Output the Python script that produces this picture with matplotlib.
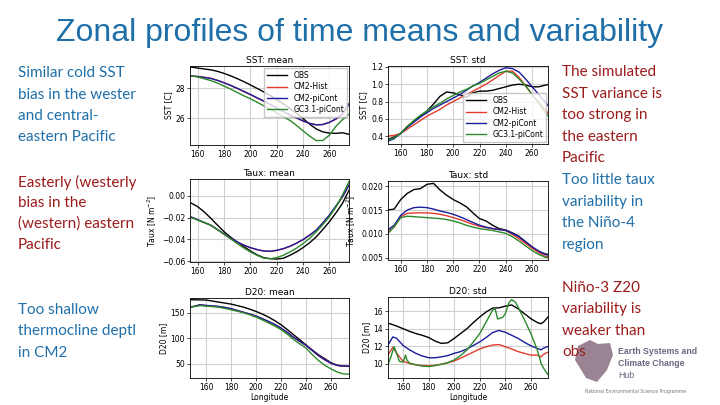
import numpy as np
import matplotlib
matplotlib.use('Agg')
import matplotlib.pyplot as plt
from matplotlib.patches import Polygon

# --- данные ---
lon = [150, 155, 160, 165, 170, 175, 180, 185, 190, 195, 200, 205, 210,
       215, 220, 225, 230, 235, 240, 245, 250, 255, 260, 265, 270, 275]
labels = ['OBS', 'CM2-Hist', 'CM2-piCont', 'GC3.1-piCont']
colors = ['black', '#e23b2e', '#1c1c9e', '#2a8a2a']

# SST: mean
sst_mean_obs = [29.5, 29.43, 29.36, 29.3, 29.24, 29.14, 29.0, 28.84, 28.65, 28.45, 28.23, 28.0, 27.77,
                27.52, 27.25, 26.96, 26.65, 26.32, 25.98, 25.6, 25.28, 25.08, 25.0, 24.98, 25.02, 24.92]
sst_mean_hist = [28.86, 28.84, 28.8, 28.74, 28.67, 28.54, 28.37, 28.19, 27.99, 27.78, 27.57, 27.35, 27.14,
                 26.91, 26.67, 26.44, 26.21, 26.01, 25.81, 25.65, 25.56, 25.58, 25.71, 25.93, 26.25, 26.92]
sst_mean_picont = [28.84, 28.83, 28.79, 28.73, 28.66, 28.53, 28.37, 28.2, 28.0, 27.8, 27.59, 27.37, 27.16,
                   26.93, 26.69, 26.45, 26.22, 26.02, 25.82, 25.65, 25.55, 25.57, 25.72, 25.95, 26.3, 26.97]
sst_mean_gc3 = [28.86, 28.84, 28.76, 28.64, 28.52, 28.35, 28.15, 27.95, 27.72, 27.5, 27.3, 27.07, 26.84,
                26.6, 26.35, 26.1, 25.85, 25.52, 25.15, 24.8, 24.5, 24.5, 24.85, 25.45, 25.9, 26.25]

# SST: std
sst_std_obs = [0.36, 0.39, 0.43, 0.51, 0.57, 0.63, 0.69, 0.77, 0.86, 0.91, 0.9, 0.88, 0.85,
               0.9, 0.92, 0.92, 0.93, 0.95, 0.97, 0.99, 1.0, 0.99, 0.97, 0.97, 0.99, 1.0]
sst_std_hist = [0.4, 0.41, 0.43, 0.48, 0.53, 0.58, 0.63, 0.67, 0.71, 0.76, 0.8, 0.84, 0.88,
                0.92, 0.96, 1.0, 1.05, 1.1, 1.15, 1.15, 1.08, 0.98, 0.88, 0.79, 0.7, 0.62]
sst_std_picont = [0.34, 0.37, 0.43, 0.5, 0.56, 0.62, 0.67, 0.72, 0.76, 0.8, 0.84, 0.88, 0.93,
                  0.98, 1.02, 1.07, 1.12, 1.16, 1.19, 1.18, 1.14, 1.06, 0.97, 0.88, 0.79, 0.7]
sst_std_gc3 = [0.35, 0.38, 0.43, 0.51, 0.58, 0.64, 0.69, 0.74, 0.78, 0.83, 0.87, 0.91, 0.94,
               0.98, 1.01, 1.05, 1.09, 1.13, 1.15, 1.13, 1.06, 0.98, 0.88, 0.78, 0.67, 0.58]

# Taux: mean
taux_mean_obs = [-0.005, -0.0068, -0.0101, -0.015, -0.0208, -0.027, -0.033, -0.038, -0.0423, -0.0465,
                 -0.0505, -0.054, -0.0566, -0.0576, -0.0579, -0.0572, -0.0545, -0.0513, -0.0475, -0.043,
                 -0.0377, -0.031, -0.0239, -0.0158, -0.007, 0.005]
taux_mean_hist = [-0.0187, -0.0197, -0.0222, -0.0247, -0.0272, -0.0312, -0.0352, -0.0391, -0.0424, -0.0453,
                  -0.0476, -0.0493, -0.0506, -0.0509, -0.05, -0.0485, -0.0463, -0.0435, -0.0402, -0.0362,
                  -0.0317, -0.0252, -0.018, -0.0097, -0.0012, 0.0096]
taux_mean_picont = [-0.0185, -0.0195, -0.022, -0.0245, -0.027, -0.031, -0.035, -0.039, -0.0423, -0.0452,
                    -0.0475, -0.0492, -0.0505, -0.0508, -0.0499, -0.0484, -0.0462, -0.0434, -0.0401, -0.036,
                    -0.0315, -0.025, -0.0178, -0.0095, -0.001, 0.0098]
taux_mean_gc3 = [-0.019, -0.02, -0.0224, -0.0245, -0.027, -0.031, -0.0352, -0.0395, -0.0438, -0.0478,
                 -0.0514, -0.0545, -0.057, -0.0576, -0.0566, -0.0545, -0.0514, -0.048, -0.0438, -0.039,
                 -0.0331, -0.0265, -0.0193, -0.0105, 0.0006, 0.0129]

# Taux: std
taux_std_obs = [0.015, 0.0152, 0.0172, 0.0185, 0.0193, 0.0195, 0.0204, 0.0206, 0.0192, 0.0181, 0.0172, 0.0165,
                0.0157, 0.0144, 0.0132, 0.0127, 0.0118, 0.0111, 0.0108, 0.0102, 0.0095, 0.0083, 0.0072,
                0.0063, 0.0058, 0.0055]
taux_std_hist = [0.0104, 0.0114, 0.0136, 0.0143, 0.0144, 0.0144, 0.0144, 0.0143, 0.0141, 0.0138, 0.0134, 0.013,
                 0.0125, 0.012, 0.0116, 0.0113, 0.0111, 0.0109, 0.0107, 0.0099, 0.009, 0.008, 0.007,
                 0.0061, 0.0053, 0.005]
taux_std_picont = [0.0108, 0.0118, 0.0139, 0.015, 0.0155, 0.0156, 0.0155, 0.0152, 0.0148, 0.0145, 0.0141, 0.0136,
                   0.013, 0.0124, 0.0118, 0.0114, 0.0111, 0.0109, 0.0107, 0.0101, 0.0094, 0.0084, 0.0073,
                   0.0064, 0.0057, 0.0053]
taux_std_gc3 = [0.01, 0.0115, 0.0134, 0.0137, 0.0136, 0.0135, 0.0134, 0.0133, 0.0132, 0.013, 0.0127, 0.0123,
                0.0118, 0.0114, 0.0111, 0.0109, 0.0107, 0.0104, 0.0101, 0.0094, 0.0085, 0.0075, 0.0065,
                0.0057, 0.0051, 0.0048]

# D20: mean
lon_d20 = [145] + lon
d20_mean_obs = [175.5, 175.5, 175.3, 175, 173, 171, 169, 167, 164, 161, 157, 152.6, 147.5, 141.5,
                134.5, 126.5, 117, 107, 97, 87, 77, 67.6, 60, 52, 47, 45, 45]
d20_mean_hist = [160, 162.5, 165.5, 164.2, 163.3, 162.2, 160.3, 157.8, 154.3, 150.8, 147.3, 143.3, 138.3, 132.8,
                 126.8, 119.8, 111.3, 101.8, 93.8, 85.8, 75.8, 65.8, 57.8, 50.8, 46.8, 45.3, 44.8]
d20_mean_picont = [160, 162.5, 165.7, 164.4, 163.5, 162.4, 160.5, 158, 154.5, 151, 147.5, 143.5, 138.5, 133,
                   127, 120, 111.5, 102, 94, 86, 76, 66, 58, 51, 47, 45.5, 45]
d20_mean_gc3 = [160, 162, 164, 163, 162, 161, 158.5, 156, 153, 150, 146, 141.5, 136, 130,
                124, 117, 108, 97.7, 89, 80.7, 68, 56.5, 47, 40, 33.7, 30, 29.5]

# D20: std
lon_d20s_obs = [145, 150, 155, 160, 165, 170, 175, 180, 185, 190, 195, 200, 205, 210, 215, 220, 225,
                230, 235, 240, 245, 250, 255, 260, 265, 268, 270, 275]
d20_std_obs = [14.7, 14.55, 14.3, 14.0, 13.7, 13.45, 13.25, 13.0, 12.6, 12.33, 12.4, 12.9, 13.45, 14.0,
               14.7, 15.33, 15.9, 16.34, 16.37, 16.56, 16.7, 16.26, 15.7, 15.14, 14.7, 14.57, 14.76, 15.6]
lon_d20s_cm2 = [145, 148, 152, 155, 160, 165, 170, 175, 180, 185, 190, 195, 200, 205, 210, 215, 220,
                225, 230, 235, 240, 245, 250, 255, 260, 265, 268, 270, 275]
d20_std_hist = [10.6, 11.0, 11.9, 11.2, 10.3, 10.05, 9.9, 9.82, 9.78, 9.85, 9.96, 10.12, 10.34, 10.65, 11.0,
                11.35, 11.7, 11.95, 12.14, 12.2, 11.95, 11.7, 11.4, 11.2, 11.0, 11.0, 10.8, 11.1, 11.45]
d20_std_picont = [11.6, 12.1, 13.07, 12.9, 12.1, 11.6, 11.2, 10.9, 10.7, 10.7, 10.8, 10.95, 11.2, 11.4, 11.7,
                  12.1, 12.5, 13.0, 13.56, 13.8, 13.6, 13.25, 12.9, 12.45, 12.06, 11.76, 11.6, 11.8, 12.06]
lon_d20s_gc3 = [145, 148, 150, 153, 155, 157, 160, 162, 163, 165, 170, 175, 180, 185, 190, 195, 200, 205,
                210, 215, 220, 225, 230, 232, 234, 238, 240, 243, 245, 248, 250, 255, 260, 265, 268,
                270, 273, 275]
d20_std_gc3 = [9.6, 9.9, 10.6, 11.95, 11.2, 10.3, 10.2, 11.0, 10.45, 10.1, 9.9, 9.75, 9.7, 9.8, 9.96, 10.15,
               10.45, 10.95, 11.6, 12.5, 13.45, 14.76, 16.1, 16.3, 15.1, 15.3, 15.7, 17.0, 17.3, 17.0,
               16.45, 15.0, 13.45, 11.6, 10.07, 9.5, 8.84, 8.6]

TITLE_BLUE = '#1f6fa9'
TEXT_BLUE = '#1f6fa9'
TEXT_RED = '#9c1b1b'

W, H = 720, 405
fig = plt.figure(figsize=(7.2, 4.05), dpi=100)
fig.patch.set_facecolor('white')


def ax_at(x0, y0, x1, y1):
    # позиция осей в пикселях картинки (y сверху вниз)
    return fig.add_axes([x0 / W, 1 - y1 / H, (x1 - x0) / W, (y1 - y0) / H])


def style(ax, title, ylabel, xlim, ylim, yticks, xlabel=None):
    ax.set_xlim(*xlim)
    ax.set_ylim(*ylim)
    ax.set_xticks([160, 180, 200, 220, 240, 260])
    ax.set_yticks(yticks)
    ax.grid(True, color='#d0d0d0', linewidth=0.8)
    ax.set_axisbelow(True)
    ax.tick_params(labelsize=5.5, length=2, width=0.5, pad=1.5)
    ax.set_title(title, fontsize=6.5, pad=2)
    ax.set_ylabel(ylabel, fontsize=5.5, labelpad=2)
    if xlabel:
        ax.set_xlabel(xlabel, fontsize=5.5, labelpad=1)
    for s in ax.spines.values():
        s.set_linewidth(0.6)


def draw(ax, xs, series):
    for x, y, c, lab in zip(xs, series, colors, labels):
        ax.plot(x, y, color=c, linewidth=1.0, label=lab)


legend_kw = dict(fontsize=5.5, frameon=True, handlelength=2.6, borderpad=0.45,
                 labelspacing=0.3, fancybox=False, edgecolor='#bbbbbb', borderaxespad=0.2)

# SST mean
ax1 = ax_at(190, 66, 349, 145)
draw(ax1, [lon] * 4, [sst_mean_obs, sst_mean_hist, sst_mean_picont, sst_mean_gc3])
style(ax1, 'SST: mean', 'SST [C]', (154, 275), (24.2, 29.5), [26, 28])
ax1.legend(loc='upper right', **legend_kw)

# SST std
ax2 = ax_at(388, 66, 548, 144)
draw(ax2, [lon] * 4, [sst_std_obs, sst_std_hist, sst_std_picont, sst_std_gc3])
style(ax2, 'SST: std', 'SST [C]', (150.5, 272), (0.31, 1.21), [0.4, 0.6, 0.8, 1.0, 1.2])
ax2.legend(loc='lower right', **legend_kw)

# Taux mean
ax3 = ax_at(190, 179, 349, 262)
draw(ax3, [lon] * 4, [taux_mean_obs, taux_mean_hist, taux_mean_picont, taux_mean_gc3])
style(ax3, 'Taux: mean', 'Taux [N m$^{-2}$]', (154, 275), (-0.0606, 0.0153),
      [-0.06, -0.04, -0.02, 0.0])
ax3.set_yticklabels(['−0.06', '−0.04', '−0.02', '0.00'])

# Taux std
ax4 = ax_at(388, 181, 548, 260)
draw(ax4, [lon] * 4, [taux_std_obs, taux_std_hist, taux_std_picont, taux_std_gc3])
style(ax4, 'Taux: std', 'Taux [N m$^{-2}$]', (150.3, 272.2), (0.0045, 0.0211),
      [0.005, 0.010, 0.015, 0.020])
ax4.set_yticklabels(['0.005', '0.010', '0.015', '0.020'])

# D20 mean
ax5 = ax_at(190, 298, 349, 378)
draw(ax5, [lon_d20] * 4, [d20_mean_obs, d20_mean_hist, d20_mean_picont, d20_mean_gc3])
style(ax5, 'D20: mean', 'D20 [m]', (147, 274.5), (22, 179), [50, 100, 150], xlabel='Longitude')

# D20 std
ax6 = ax_at(388, 297, 548, 378)
draw(ax6, [lon_d20s_obs, lon_d20s_cm2, lon_d20s_cm2, lon_d20s_gc3],
     [d20_std_obs, d20_std_hist, d20_std_picont, d20_std_gc3])
style(ax6, 'D20: std', 'D20 [m]', (148.2, 273.4), (8.4, 17.6), [10, 12, 14, 16], xlabel='Longitude')

# заголовок слайда
fig.text(360 / W, 1 - 33 / H, 'Zonal profiles of time means and variability', ha='center', va='center',
         fontsize=23, color=TITLE_BLUE, family='Liberation Sans')

# текст слева и справа
left_lines = [('Similar cold SST', 73, TEXT_BLUE), ('bias in the wester', 95, TEXT_BLUE),
              ('and central-', 116, TEXT_BLUE), ('eastern Pacific', 137, TEXT_BLUE),
              ('Easterly (westerly', 182, TEXT_RED), ('bias in the', 203, TEXT_RED),
              ('(western) eastern', 224, TEXT_RED), ('Pacific', 245, TEXT_RED),
              ('Too shallow', 310, TEXT_BLUE), ('thermocline deptl', 331, TEXT_BLUE),
              ('in CM2', 353, TEXT_BLUE)]
right_lines = [('The simulated', 72, TEXT_RED), ('SST variance is', 94, TEXT_RED),
               ('too strong in', 115, TEXT_RED), ('the eastern', 137, TEXT_RED),
               ('Pacific', 158, TEXT_RED), ('Too little taux', 180, TEXT_BLUE),
               ('variability in', 202, TEXT_BLUE), ('the Niño-4', 223, TEXT_BLUE),
               ('region', 245, TEXT_BLUE), ('Niño-3 Z20', 288, TEXT_RED),
               ('variability is', 309, TEXT_RED), ('weaker than', 331, TEXT_RED),
               ('obs', 352, TEXT_RED)]
for s, y, c in left_lines:
    fig.text(18 / W, 1 - y / H, s, ha='left', va='center', fontsize=11, color=c, family='Lato')
for s, y, c in right_lines:
    fig.text(562 / W, 1 - y / H, s, ha='left', va='center', fontsize=11, color=c, family='Lato',
             zorder=5)

# логотип
blob = [(578, 346), (590, 340), (598, 344), (610, 343), (613, 355), (607, 370), (597, 382),
        (586, 378), (580, 368), (575, 360)]
fig.patches.append(Polygon([(x / W, 1 - y / H) for x, y in blob], closed=True,
                           transform=fig.transFigure, facecolor='#9a8494', edgecolor='none',
                           zorder=1))
for s, y in [('Earth Systems and', 352), ('Climate Change', 364), ('Hub', 375)]:
    fig.text(618 / W, 1 - y / H, s, ha='left', va='center', fontsize=6.3, color='#6e6680',
             family='Liberation Sans', fontweight='bold' if s != 'Hub' else 'normal')
fig.text(636 / W, 1 - 391 / H, 'National Environmental Science Programme', ha='center', va='center',
         fontsize=3.3, color='#777777')

plt.savefig('out.png', dpi=100)
